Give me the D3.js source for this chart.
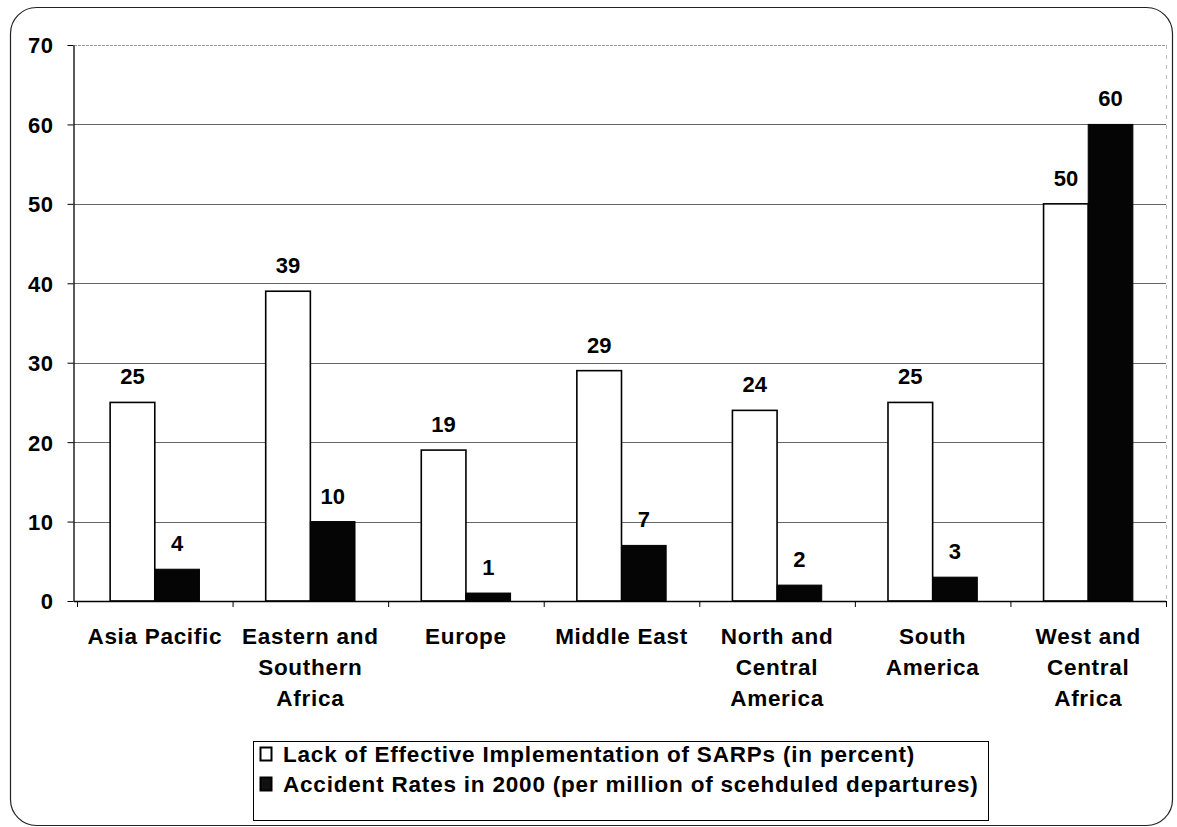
<!DOCTYPE html>
<html>
<head>
<meta charset="utf-8">
<script src="https://cdn.jsdelivr.net/npm/d3@7/dist/d3.min.js"></script>
<style>
  html, body { margin: 0; padding: 0; background: #fff; }
  svg { display: block; font-family: Arial, "Liberation Sans", sans-serif; font-weight: bold; }
</style>
</head>
<body>
<svg id="chart" width="1177" height="827"></svg>
<script>
// Regions and their two measures
const categories = [
  ["Asia Pacific"],
  ["Eastern and", "Southern", "Africa"],
  ["Europe"],
  ["Middle East"],
  ["North and", "Central", "America"],
  ["South", "America"],
  ["West and", "Central", "Africa"]
];
const lackOfImplementation = [25, 39, 19, 29, 24, 25, 50];
const accidentRates = [4, 10, 1, 7, 2, 3, 60];
const yTicks = [0, 10, 20, 30, 40, 50, 60, 70];
const seriesNames = [
  "Lack of Effective Implementation of SARPs (in percent)",
  "Accident Rates in 2000 (per million of scehduled departures)"
];

const svg = d3.select("#chart");

// Outer rounded frame
svg.append("rect")
  .attr("x", 10.5).attr("y", 7.5)
  .attr("width", 1162).attr("height", 818)
  .attr("rx", 26).attr("ry", 26)
  .attr("fill", "#fff").attr("stroke", "#222").attr("stroke-width", 1.2);

const plot = { left: 74, right: 1166, top: 45, bottom: 601 };

const x = d3.scaleBand()
  .domain(d3.range(categories.length))
  .range([plot.left + 3, plot.right])
  .paddingInner(0).paddingOuter(0);

const y = d3.scaleLinear().domain([0, 70]).range([plot.bottom, plot.top]);

// Horizontal gridlines
svg.append("g")
  .selectAll("line")
  .data(yTicks.filter(d => d > 0))
  .join("line")
  .attr("x1", plot.left).attr("x2", plot.right)
  .attr("y1", d => Math.round(y(d)) + 0.5).attr("y2", d => Math.round(y(d)) + 0.5)
  .attr("stroke", d => d === 70 ? "#999" : "#666")
  .attr("stroke-width", 1)
  .attr("stroke-dasharray", d => d === 70 ? "3,1" : null);

// Faint right edge of the plot area
svg.append("line")
  .attr("x1", plot.right + 0.5).attr("x2", plot.right + 0.5)
  .attr("y1", plot.top).attr("y2", plot.bottom)
  .attr("stroke", "#bbb").attr("stroke-dasharray", "4,6");

// Y axis
const yAxis = svg.append("g")
  .attr("transform", `translate(${plot.left - 0.5},0)`)
  .call(d3.axisLeft(y).tickValues(yTicks).tickSize(6).tickPadding(14).tickSizeOuter(0));
yAxis.select(".domain").attr("stroke", "#000").attr("stroke-width", 1.3);
yAxis.selectAll(".tick line").attr("stroke", "#000");
yAxis.selectAll(".tick text")
  .attr("font-size", 22).attr("font-weight", "bold").attr("fill", "#000")
  .attr("font-family", "Arial, 'Liberation Sans', sans-serif")
  .attr("letter-spacing", 0.5)
  .attr("dy", "0.36em");

// Bars
const barW = x.bandwidth() * 0.287;
const groups = svg.append("g").selectAll("g")
  .data(categories.map((c, i) => ({ i, a: lackOfImplementation[i], b: accidentRates[i] })))
  .join("g");

groups.append("rect")
  .attr("x", d => x(d.i) + x.bandwidth() / 2 - barW)
  .attr("y", d => y(d.a))
  .attr("width", barW)
  .attr("height", d => y(0) - y(d.a))
  .attr("fill", "#fff").attr("stroke", "#000").attr("stroke-width", 1.6);

groups.append("rect")
  .attr("x", d => x(d.i) + x.bandwidth() / 2)
  .attr("y", d => y(d.b))
  .attr("width", barW)
  .attr("height", d => y(0) - y(d.b))
  .attr("fill", "#050505").attr("stroke", "#000").attr("stroke-width", 1);

// Value labels
groups.append("text")
  .attr("x", d => x(d.i) + x.bandwidth() / 2 - barW / 2)
  .attr("y", d => y(d.a) - 18)
  .attr("text-anchor", "middle").attr("font-size", 22).text(d => d.a);
groups.append("text")
  .attr("x", d => x(d.i) + x.bandwidth() / 2 + barW / 2)
  .attr("y", d => y(d.b) - 18)
  .attr("text-anchor", "middle").attr("font-size", 22).text(d => d.b);

// X axis baseline and category separators
svg.append("line")
  .attr("x1", plot.left).attr("x2", plot.right)
  .attr("y1", plot.bottom + 0.5).attr("y2", plot.bottom + 0.5)
  .attr("stroke", "#000").attr("stroke-width", 1.3);
svg.append("g").selectAll("line")
  .data(d3.range(categories.length + 1))
  .join("line")
  .attr("x1", i => (i < categories.length ? x(i) : x.range()[1]) + 0.5)
  .attr("x2", i => (i < categories.length ? x(i) : x.range()[1]) + 0.5)
  .attr("y1", plot.bottom).attr("y2", plot.bottom + 6)
  .attr("stroke", "#000");

// Category labels
const catText = svg.append("g").selectAll("text")
  .data(categories)
  .join("text")
  .attr("text-anchor", "middle")
  .attr("font-size", 22.5)
  .attr("letter-spacing", 0.7)
  .attr("transform", (d, i) => `translate(${x(i) + x.bandwidth() / 2},644)`);
catText.selectAll("tspan")
  .data(d => d)
  .join("tspan")
  .attr("x", 0)
  .attr("y", (d, j) => j * 31)
  .text(d => d);

// Legend
const legend = svg.append("g");
legend.append("rect")
  .attr("x", 253.5).attr("y", 741.5).attr("width", 735).attr("height", 79)
  .attr("fill", "#fff").attr("stroke", "#000").attr("stroke-width", 1);
const legendRows = seriesNames.map((name, i) => ({ name, i }));
legend.selectAll("rect.sw")
  .data(legendRows)
  .join("rect")
  .attr("class", "sw")
  .attr("x", 260.5).attr("y", d => 747.5 + d.i * 30)
  .attr("width", 11).attr("height", 13)
  .attr("fill", d => d.i === 0 ? "#fff" : "#111")
  .attr("stroke", "#000").attr("stroke-width", 2);
legend.selectAll("text")
  .data(legendRows)
  .join("text")
  .attr("x", 283).attr("y", d => 762 + d.i * 30)
  .attr("font-size", 22.5)
  .attr("letter-spacing", 0.8)
  .text(d => d.name);
</script>
</body>
</html>
